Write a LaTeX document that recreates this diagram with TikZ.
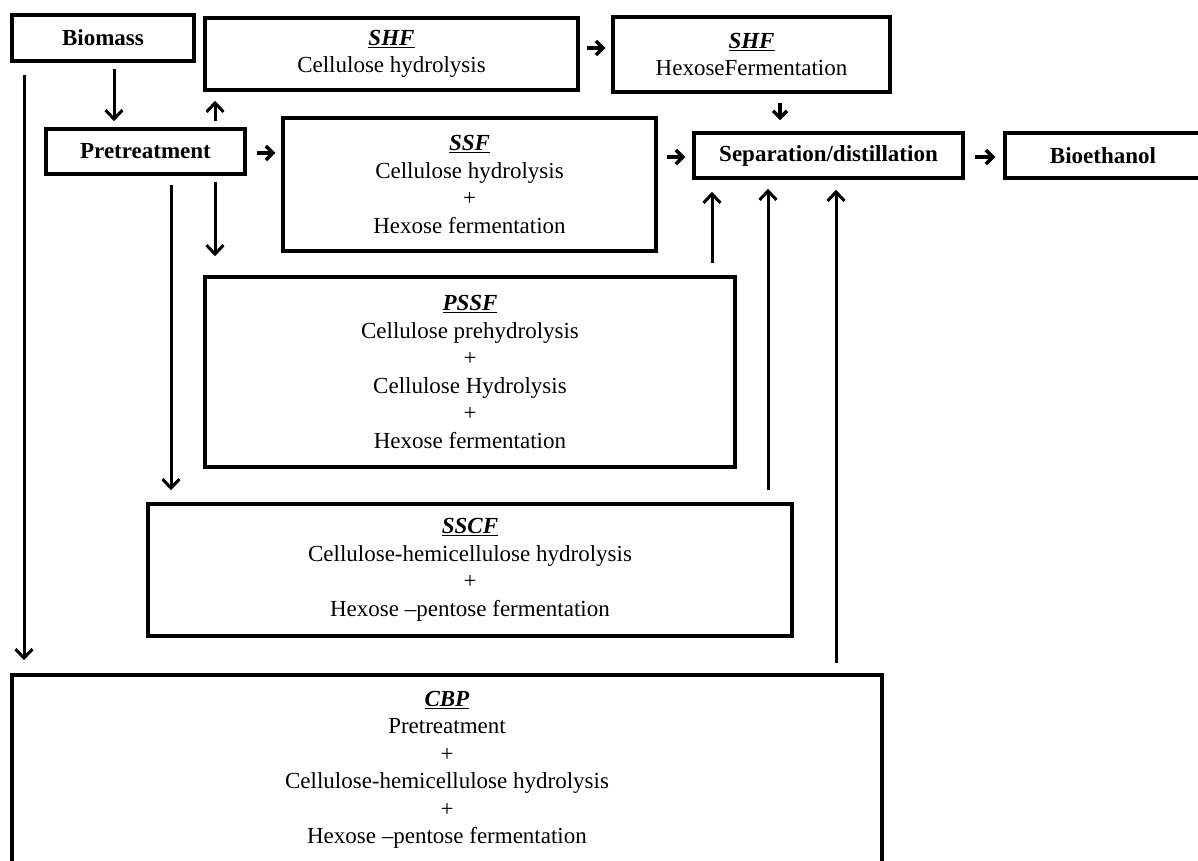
\documentclass[tikz,border=0pt]{standalone}
\usepackage{fontspec}
\setmainfont{Liberation Serif}
\usetikzlibrary{arrows.meta}
\begin{document}
\begin{tikzpicture}[x=1pt,y=-1pt,
  box/.style={draw, line width=3.5pt, inner sep=0pt, align=center,
    font=\fontsize{23}{27.5}\selectfont},
  bbox/.style={box, font=\fontsize{23}{27.5}\selectfont\bfseries},
  arr/.style={line width=3pt, -{Straight Barb[length=9pt,width=17pt,line width=3pt]}},
  sarr/.style={line width=3.5pt, -{Straight Barb[length=7pt,width=14pt,line width=3.5pt]}}]
\newcommand{\ttl}[1]{\underline{\textbf{\textit{#1}}}}
\useasboundingbox (0,0) rectangle (1198,861);
\fill[white] (0,0) rectangle (1198,861);
\begin{scope}
\clip (0,0) rectangle (1198,861);
\node[bbox, minimum width=182pt, minimum height=46pt] (bio) at (103,38) {Biomass};
\node[box, minimum width=373pt, minimum height=72pt] (shf1) at (391.5,54) {\ttl{SHF}\\Cellulose hydrolysis};
\node[box, minimum width=277pt, minimum height=75pt] (shf2) at (751.5,54.5) {\ttl{SHF}\\HexoseFermentation};
\node[bbox, minimum width=199pt, minimum height=45pt] (pre) at (145.5,151.5) {Pretreatment};
\node[box, minimum width=373pt, minimum height=133pt] (ssf) at (469.5,184.5) {\ttl{SSF}\\Cellulose hydrolysis\\+\\Hexose fermentation};
\node[bbox, minimum width=269pt, minimum height=45pt] (sep) at (828.5,155.5) {Separation/distillation};
\node[bbox, minimum width=196pt, minimum height=45pt] (eth) at (1103,155.5) {Bioethanol};
\node[box, minimum width=530pt, minimum height=190pt] (pssf) at (470,372) {\ttl{PSSF}\\Cellulose prehydrolysis\\+\\Cellulose Hydrolysis\\+\\Hexose fermentation};
\node[box, minimum width=644pt, minimum height=132pt] (sscf) at (470,570) {\ttl{SSCF}\\Cellulose-hemicellulose hydrolysis\\+\\Hexose \textendash pentose fermentation};
\node[box, minimum width=870pt, minimum height=190pt] (cbp) at (447,770) {\ttl{CBP}\\Pretreatment\\+\\Cellulose-hemicellulose hydrolysis\\+\\Hexose \textendash pentose fermentation};
\end{scope}
% column / row helpers
\coordinate (x24) at (24,0);
\coordinate (x114) at (114,0);
\coordinate (x171) at (171,0);
\coordinate (x215) at (215,0);
\coordinate (x712) at (712,0);
\coordinate (x768) at (768,0);
\coordinate (x780) at (780,0);
\coordinate (x836) at (836,0);
\coordinate (y48) at (0,48);
\coordinate (y153) at (0,153);
\coordinate (y157) at (0,157);
% arrows
\draw[arr, shorten <=6pt, shorten >=6pt] (bio.south -| x114) -- (pre.north -| x114);
\draw[arr, shorten <=6pt, shorten >=9pt] (pre.north -| x215) -- (shf1.south -| x215);
\draw[sarr, shorten <=10pt, shorten >=6pt] (pre.east |- y153) -- (ssf.west |- y153);
\draw[arr, shorten <=6pt, shorten >=19pt] (pre.south -| x215) -- (pssf.north -| x215);
\draw[arr, shorten <=9pt, shorten >=12pt] (pre.south -| x171) -- (sscf.north -| x171);
\draw[arr, shorten <=12pt, shorten >=13pt] (bio.south -| x24) -- (cbp.north -| x24);
\draw[sarr, shorten <=7pt, shorten >=6pt] (shf1.east |- y48) -- (shf2.west |- y48);
\draw[sarr, shorten <=9pt, shorten >=11pt] (shf2.south -| x780) -- (sep.north -| x780);
\draw[sarr, shorten <=9pt, shorten >=7pt] (ssf.east |- y157) -- (sep.west |- y157);
\draw[sarr, shorten <=10pt, shorten >=8pt] (sep.east |- y157) -- (eth.west |- y157);
\draw[arr, shorten <=12pt, shorten >=12pt] (pssf.north -| x712) -- (sep.south -| x712);
\draw[arr, shorten <=12pt, shorten >=9pt] (sscf.north -| x768) -- (sep.south -| x768);
\draw[arr, shorten <=10pt, shorten >=10pt] (cbp.north -| x836) -- (sep.south -| x836);
\end{tikzpicture}
\end{document}
